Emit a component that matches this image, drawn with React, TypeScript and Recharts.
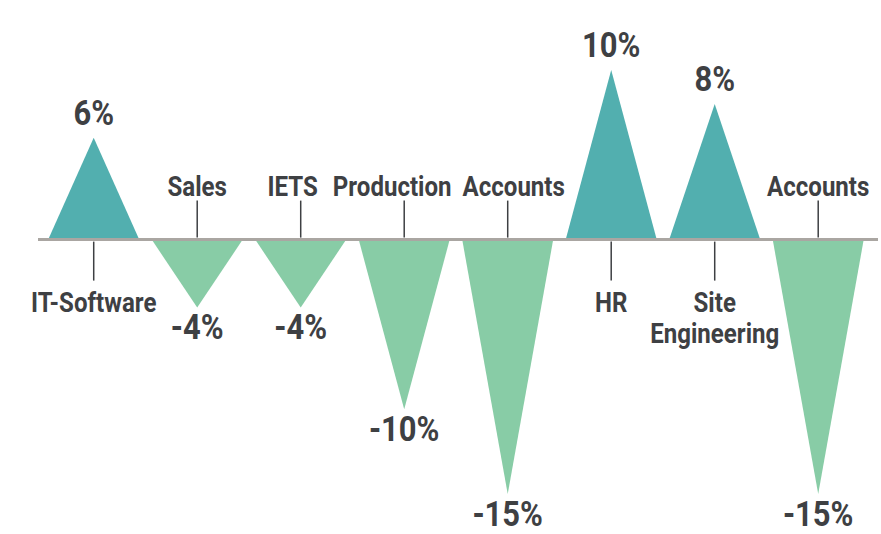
import { BarChart, Bar, XAxis, YAxis, ReferenceLine, LabelList } from "recharts";

const categories = ["IT-Software", "Sales", "IETS", "Production", "Accounts", "HR", "Site Engineering", "Accounts"];
const values = [6, -4, -4, -10, -15, 10, 8, -15];

const rows = categories.map((name, i) => ({ name, value: values[i] }));

const POS = "#52afaf";
const NEG = "#88cca6";
const INK = "#3e4043";
const FONT = "Roboto, 'Liberation Sans', sans-serif";
const SQUEEZE = 0.86;
// the crowded names in the middle are nudged apart, as in the original
const NAME_SHIFT: Record<number, number> = { 2: -8, 3: -12, 4: 6 };

function Triangle(props: any) {
  const { x, y, width, height, index } = props;
  const top = Math.min(y, y + height);
  const bottom = Math.max(y, y + height);
  const cx = x + width / 2;
  const d =
    values[index] >= 0
      ? `M${x},${bottom} L${cx},${top} L${x + width},${bottom} Z`
      : `M${x},${top} L${cx},${bottom} L${x + width},${top} Z`;
  return <path d={d} fill={values[index] >= 0 ? POS : NEG} />;
}

function ValueLabel(props: any) {
  const { x, y, width, height, index } = props;
  const top = Math.min(y, y + height);
  const bottom = Math.max(y, y + height);
  const cx = x + width / 2;
  const pos = values[index] >= 0;
  return (
    <text
      transform={`translate(${cx},${pos ? top - 13 : bottom + 32}) scale(${SQUEEZE},1)`}
      textAnchor="middle"
      fill={INK}
      fontFamily={FONT}
      fontWeight="bold"
      fontSize={36}
    >
      {`${values[index]}%`}
    </text>
  );
}

function NameLabel(props: any) {
  const { x, y, width, height, index } = props;
  const cx = x + width / 2;
  const pos = values[index] >= 0;
  // the flat side of the triangle sits on the zero line
  const base = pos ? Math.max(y, y + height) : Math.min(y, y + height);
  const words = categories[index] === "Site Engineering" ? ["Site", "Engineering"] : [categories[index]];
  const tx = cx + (NAME_SHIFT[index] || 0);
  return (
    <g>
      <line
        x1={cx}
        x2={cx}
        y1={pos ? base + 2 : base - 2}
        y2={pos ? base + 41 : base - 39}
        stroke={INK}
        strokeWidth={1.5}
      />
      <text
        transform={`translate(${tx},0) scale(${SQUEEZE},1)`}
        textAnchor="middle"
        fill={INK}
        fontFamily={FONT}
        fontWeight="bold"
        fontSize={28}
      >
        {words.map((w, i) => (
          <tspan key={i} x={0} y={pos ? base + 72 + i * 31 : base - 44}>
            {w}
          </tspan>
        ))}
      </text>
    </g>
  );
}

function ZeroLine(props: any) {
  const { x1, x2, y1 } = props;
  return <line x1={x1 - 4} x2={x2 + 8} y1={y1} y2={y1} stroke="#aaa6a2" strokeWidth={3} />;
}

export default function App() {
  return (
    <div style={{ position: "absolute", left: 0, top: 0, width: 881, height: 534, background: "#fff" }}>
      <BarChart
        width={881}
        height={534}
        data={rows}
        margin={{ top: 70, right: 11, left: 42, bottom: 40 }}
        barCategoryGap="6%"
      >
        <XAxis dataKey="name" hide />
        <YAxis hide domain={[-15, 10]} />
        <ReferenceLine y={0} shape={<ZeroLine />} />
        <Bar dataKey="value" shape={<Triangle />} isAnimationActive={false}>
          <LabelList dataKey="value" content={<ValueLabel />} />
          <LabelList dataKey="name" content={<NameLabel />} />
        </Bar>
      </BarChart>
    </div>
  );
}
